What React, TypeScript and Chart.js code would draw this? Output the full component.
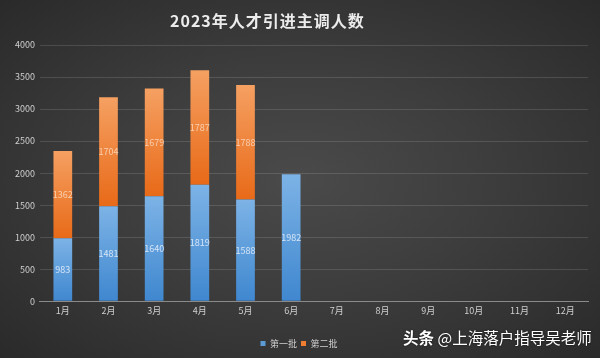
import React, { useEffect, useRef } from "react";
import { Chart, registerables } from "chart.js";

Chart.register(...registerables);

const categories = ["1月", "2月", "3月", "4月", "5月", "6月", "7月", "8月", "9月", "10月", "11月", "12月"];
const batch1 = [983, 1481, 1640, 1819, 1588, 1982, null, null, null, null, null, null];
const batch2 = [1362, 1704, 1679, 1787, 1788, null, null, null, null, null, null, null];
const seriesNames = ["第一批", "第二批"];
const yTicks = [0, 500, 1000, 1500, 2000, 2500, 3000, 3500, 4000];

const FONT = "'Noto Sans CJK SC', 'Noto Sans', sans-serif";

const labelPlugin = {
  id: "segLabels",
  afterDatasetsDraw(chart: any) {
    const ctx = chart.ctx;
    ctx.save();
    ctx.font = `9px ${FONT}`;
    ctx.textAlign = "center";
    ctx.textBaseline = "middle";
    chart.data.datasets.forEach((ds: any, di: number) => {
      const meta = chart.getDatasetMeta(di);
      meta.data.forEach((bar: any, i: number) => {
        const v = ds.data[i];
        if (v == null) return;
        const { x, y, base } = bar.getProps(["x", "y", "base"], true);
        ctx.fillStyle = di === 0 ? "rgba(225,236,248,0.9)" : "rgba(252,214,186,0.9)";
        ctx.fillText(String(v), x, (y + base) / 2);
      });
    });
    ctx.restore();
  },
};

function segGradient(c: any, light: string, dark: string) {
  const chart = c.chart;
  const y = chart.scales && chart.scales.y;
  if (!y || c.type !== "data") return dark;
  const i = c.dataIndex;
  const di = c.datasetIndex;
  const v1 = batch1[i] || 0;
  const v2 = batch2[i] || 0;
  const lo = di === 0 ? 0 : v1;
  const hi = di === 0 ? v1 : v1 + v2;
  const top = y.getPixelForValue(hi);
  const bot = y.getPixelForValue(lo);
  if (!isFinite(top) || !isFinite(bot) || top === bot) return dark;
  const g = chart.ctx.createLinearGradient(0, top, 0, bot);
  g.addColorStop(0, light);
  g.addColorStop(1, dark);
  return g;
}

export default function App() {
  const ref = useRef<HTMLCanvasElement | null>(null);
  useEffect(() => {
    if (!ref.current) return;
    const chart = new Chart(ref.current, {
      type: "bar",
      data: {
        labels: categories,
        datasets: [
          {
            label: seriesNames[0],
            data: batch1 as any,
            backgroundColor: (c: any) => segGradient(c, "#7db3e6", "#3f87cf"),
            borderWidth: 0,
            barPercentage: 0.82,
            categoryPercentage: 0.5,
          },
          {
            label: seriesNames[1],
            data: batch2 as any,
            backgroundColor: (c: any) => segGradient(c, "#f5a062", "#e86a18"),
            borderWidth: 0,
            barPercentage: 0.82,
            categoryPercentage: 0.5,
          },
        ],
      },
      options: {
        animation: false,
        responsive: false,
        maintainAspectRatio: false,
        layout: { padding: { top: 45, left: 10, right: 12, bottom: 0 } },
        plugins: {
          legend: {
            position: "bottom",
            labels: {
              color: "#d0d0d0",
              font: { size: 9, family: FONT },
              boxWidth: 5,
              boxHeight: 5,
              padding: 4,
              generateLabels: (chart: any) =>
                chart.data.datasets.map((ds: any, i: number) => ({
                  text: ds.label,
                  fillStyle: i === 0 ? "#5b9bd5" : "#ed7d31",
                  strokeStyle: "transparent",
                  lineWidth: 0,
                  fontColor: "#d0d0d0",
                  datasetIndex: i,
                })),
            },
          },
          tooltip: { enabled: false },
          title: { display: false },
        },
        scales: {
          x: {
            stacked: true,
            grid: { display: false, drawTicks: false },
            border: { color: "#8a8a8a", width: 1 },
            ticks: { color: "#cfcfcf", font: { size: 9, family: FONT }, padding: 4 },
            afterFit: (s: any) => {
              s.height += 15;
            },
          },
          y: {
            stacked: true,
            min: 0,
            max: 4000,
            afterBuildTicks: (s: any) => {
              s.ticks = yTicks.map((v) => ({ value: v }));
            },
            grid: {
              color: (c: any) => (c.tick && c.tick.value === 0 ? "#8a8a8a" : "rgba(255,255,255,0.13)"),
              drawTicks: false,
            },
            border: { display: false },
            ticks: {
              color: "#cfcfcf",
              font: { size: 9, family: FONT },
              padding: 5,
              callback: (v: any) => String(v),
            },
          },
        },
      },
      plugins: [labelPlugin],
    });
    return () => chart.destroy();
  }, []);

  return (
    <div
      style={{
        position: "fixed",
        left: 0,
        top: 0,
        width: 600,
        height: 358,
        overflow: "hidden",
        background: "radial-gradient(ellipse at 50% 50%, #4a4a4a 0%, #3d3d3d 45%, #2a2a2a 100%)",
      }}
    >
      <canvas ref={ref} width={600} height={358} style={{ position: "absolute", left: 0, top: 0 }} />
      <div
        style={{
          position: "absolute",
          left: 170,
          top: 8,
          color: "#ececec",
          fontFamily: FONT,
          fontWeight: "bold",
          fontSize: 16,
          letterSpacing: 1,
          whiteSpace: "nowrap",
        }}
      >
        2023年人才引进主调人数
      </div>
      <div
        style={{
          position: "absolute",
          left: 403,
          top: 326,
          color: "#ffffff",
          fontFamily: FONT,
          fontSize: 15.5,
          whiteSpace: "nowrap",
          textShadow: "0 0 2px rgba(0,0,0,0.6)",
        }}
      >
        <span style={{ fontWeight: "bold" }}>头条</span> @上海落户指导吴老师
      </div>
    </div>
  );
}
